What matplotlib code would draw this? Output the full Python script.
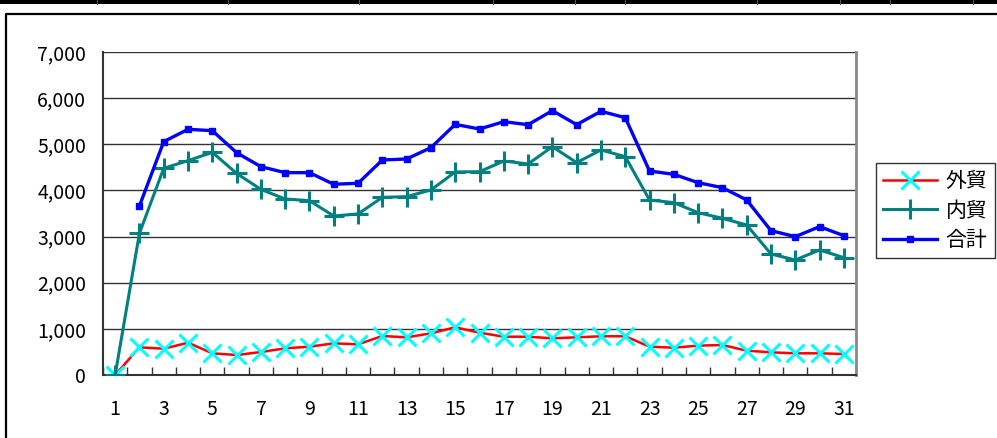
import numpy as np
import matplotlib.pyplot as plt
from matplotlib.lines import Line2D
from matplotlib.patches import Rectangle

plt.rcParams['font.family'] = ['Noto Sans CJK JP', 'DejaVu Sans']

days = list(range(1, 32))
gaibo = [0, 600, 570, 700, 470, 433, 498, 578, 614, 686, 665, 845, 817, 903, 1034,
         917, 830, 830, 795, 817, 839, 839, 614, 592, 636, 650, 527, 491, 470, 470, 455]
naibo = [0, 3071, 4480, 4645, 4826, 4370, 4023, 3814, 3778, 3446, 3490, 3850, 3865,
         4010, 4400, 4406, 4638, 4573, 4949, 4602, 4877, 4732, 3793, 3735, 3518, 3396,
         3251, 2623, 2493, 2709, 2543]
goukei = [np.nan, 3663, 5057, 5325, 5295, 4818, 4515, 4385, 4385, 4133, 4155, 4660,
          4681, 4927, 5432, 5331, 5490, 5425, 5729, 5425, 5715, 5577, 4421, 4349, 4168,
          4060, 3793, 3128, 2998, 3215, 3020]
labels = ['外貿', '内貿', '合計']

fig = plt.figure(figsize=(9.97, 4.38), dpi=100)

# black bar at the top (table border) and chart frame
fig.patches.append(Rectangle((0, 1 - 4 / 438), 1, 4 / 438, transform=fig.transFigure,
                             facecolor='black', edgecolor='none'))
for xs in [97, 228, 359, 493, 575, 625, 757, 840, 890, 973]:
    fig.add_artist(Line2D([xs / 997, xs / 997], [1 - 4 / 438, 1], transform=fig.transFigure,
                          color='#555555', lw=0.8))
fig.add_artist(Line2D([5.5 / 997, 5.5 / 997, 1], [0, 1 - 13.5 / 438, 1 - 13.5 / 438],
                      transform=fig.transFigure, color='black', lw=1.6))

ax = fig.add_axes([103 / 997, 1 - 375 / 438, 753 / 997, 323 / 438])

ax.plot(days, gaibo, color='red', lw=1.8, marker='x', ms=13, mec='#00ffff', mew=2.2,
        label=labels[0], zorder=3)
ax.plot(days, naibo, color='#008080', lw=2.2, marker='+', ms=15, mec='#008080', mew=2.2,
        label=labels[1], zorder=4)
ax.plot(days, goukei, color='#0000ff', lw=2.4, marker='s', ms=5, mec='#0000ff',
        label=labels[2], zorder=5)

ax.set_xlim(0.5, 31.5)
ax.set_ylim(0, 7000)
ax.set_yticks(range(0, 7001, 1000))
ax.set_yticklabels([f'{v:,}' for v in range(0, 7001, 1000)])
ax.yaxis.grid(True, color='#333333', lw=1.0)
ax.set_axisbelow(True)

ax.set_xticks(np.arange(0.5, 31.6, 1), minor=False)
ax.set_xticklabels([])
ax.set_xticks(days[::2], minor=True)
ax.set_xticklabels([str(d) for d in days[::2]], minor=True)
ax.tick_params(axis='x', which='major', direction='in', length=6, width=1, color='#333333')
ax.tick_params(axis='x', which='minor', length=0, pad=17, labelsize=14)
ax.tick_params(axis='y', length=0, pad=12, labelsize=14)

for s in ['top']:
    ax.spines[s].set_visible(False)
ax.spines['right'].set_color('#888888')
ax.spines['right'].set_linewidth(2)
ax.spines['left'].set_color('#333333')
ax.spines['bottom'].set_color('#333333')
ax.spines['left'].set_linewidth(1.5)
ax.spines['bottom'].set_linewidth(1.5)

leg = fig.legend(loc='upper left', bbox_to_anchor=(876 / 997, 1 - 163 / 438),
                 fontsize=15, frameon=True, fancybox=False, edgecolor='black',
                 handlelength=2.6, handletextpad=0.4, borderpad=0.35, labelspacing=0.35,
                 borderaxespad=0)
leg.get_frame().set_linewidth(1.0)

fig.savefig('out.png', dpi=100)
